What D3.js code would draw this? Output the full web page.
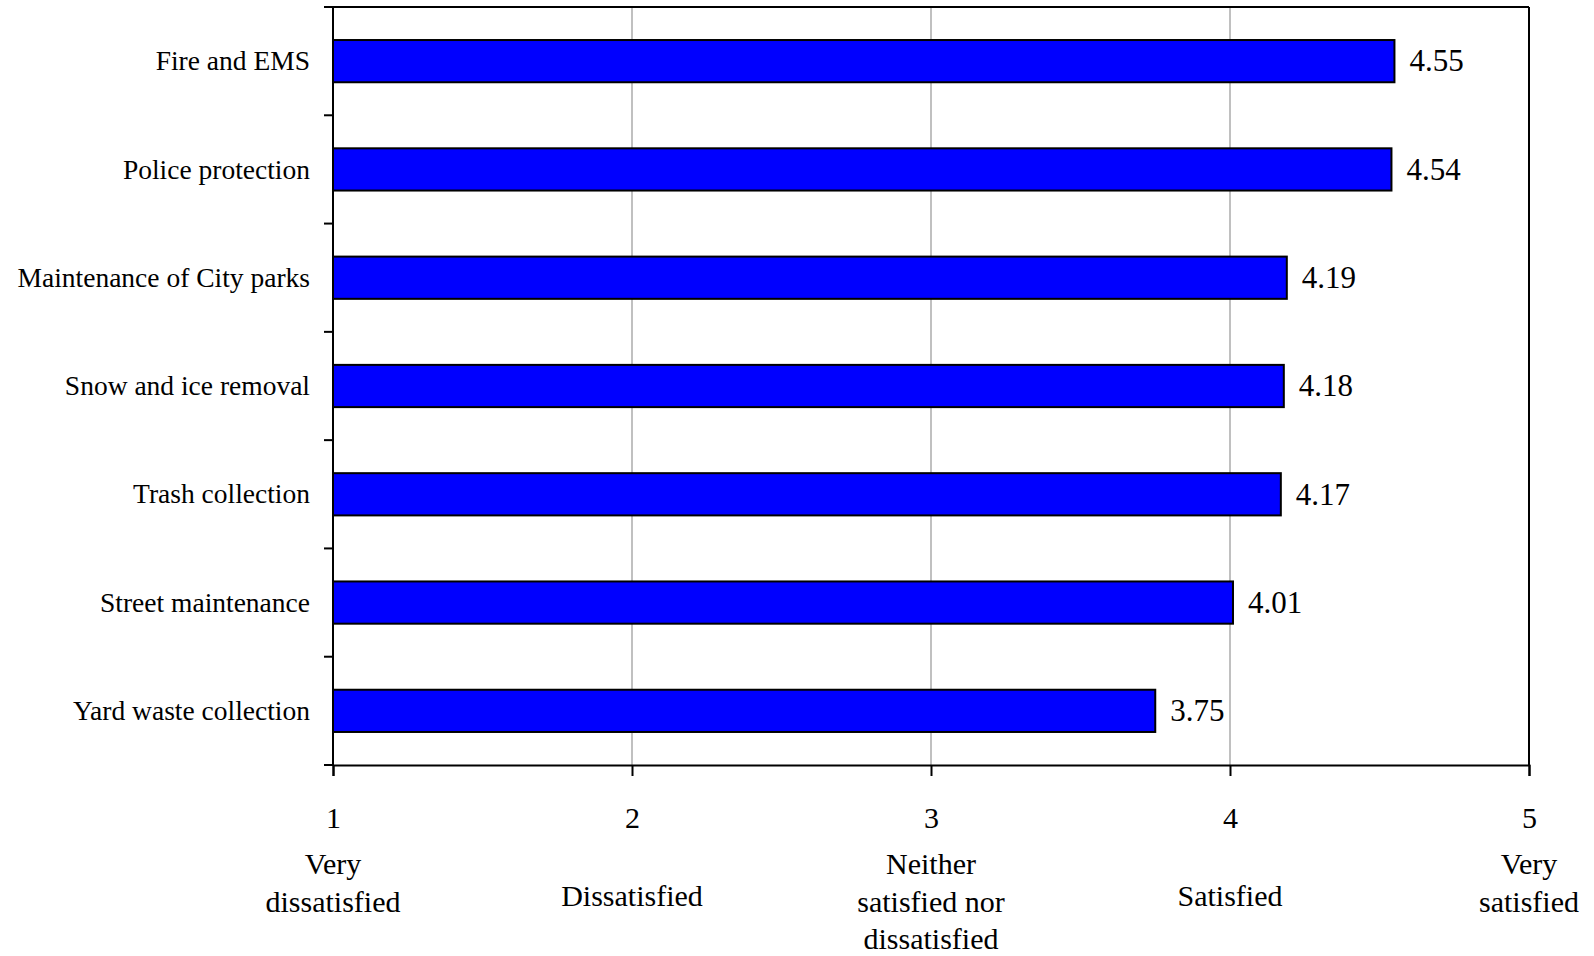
<!DOCTYPE html>
<html>
<head>
<meta charset="utf-8">
<script src="https://cdn.jsdelivr.net/npm/d3@7"></script>
<style>
  html, body { margin: 0; padding: 0; background: #fff; }
  svg { display: block; }
  text { font-family: "Liberation Serif", "Times New Roman", serif; fill: #000; }
</style>
</head>
<body>
<svg id="chart" width="1594" height="956"></svg>
<script>
// ---- data ----
const categories = [
  "Fire and EMS",
  "Police protection",
  "Maintenance of City parks",
  "Snow and ice removal",
  "Trash collection",
  "Street maintenance",
  "Yard waste collection"
];
const values = [4.55, 4.54, 4.19, 4.18, 4.17, 4.01, 3.75];
const tickValues = [1, 2, 3, 4, 5];
const tickDescriptions = [
  ["Very", "dissatisfied"],
  ["Dissatisfied"],
  ["Neither", "satisfied nor", "dissatisfied"],
  ["Satisfied"],
  ["Very", "satisfied"]
];

// ---- layout ----
const svg = d3.select("#chart");
const plot = { left: 333, right: 1529, top: 7, bottom: 765 };

const x = d3.scaleLinear().domain([1, 5]).range([plot.left, plot.right]);
const y = d3.scaleBand().domain(categories)
  .range([plot.top, plot.bottom])
  .paddingInner(0.61).paddingOuter(0.305);

// gridlines
svg.append("g")
  .selectAll("line")
  .data(tickValues.slice(1, -1))
  .join("line")
  .attr("x1", d => x(d)).attr("x2", d => x(d))
  .attr("y1", plot.top).attr("y2", plot.bottom)
  .attr("stroke", "#c0c0c0").attr("stroke-width", 2);

// bars
svg.append("g")
  .selectAll("rect")
  .data(values)
  .join("rect")
  .attr("x", x(1))
  .attr("y", (d, i) => y(categories[i]))
  .attr("width", d => x(d) - x(1))
  .attr("height", y.bandwidth())
  .attr("fill", "#0000ff")
  .attr("stroke", "#000")
  .attr("stroke-width", 2);

// value labels
svg.append("g")
  .selectAll("text")
  .data(values)
  .join("text")
  .attr("x", d => x(d) + 15)
  .attr("y", (d, i) => y(categories[i]) + y.bandwidth() / 2)
  .attr("dy", "0.33em")
  .attr("font-size", 31)
  .text(d => d.toFixed(2));

// frame (top & right)
svg.append("line")
  .attr("x1", plot.left).attr("x2", plot.right)
  .attr("y1", plot.top).attr("y2", plot.top)
  .attr("stroke", "#000").attr("stroke-width", 2);
svg.append("line")
  .attr("x1", plot.right).attr("x2", plot.right)
  .attr("y1", plot.top).attr("y2", plot.bottom)
  .attr("stroke", "#000").attr("stroke-width", 2);

// left axis: ticks at band boundaries
const boundaries = d3.range(categories.length + 1).map(i => plot.top + i * y.step());
const leftAxis = svg.append("g");
leftAxis.append("line")
  .attr("x1", plot.left).attr("x2", plot.left)
  .attr("y1", plot.top).attr("y2", plot.bottom)
  .attr("stroke", "#000").attr("stroke-width", 2);
leftAxis.selectAll("line.tick")
  .data(boundaries)
  .join("line")
  .attr("class", "tick")
  .attr("x1", plot.left - 9).attr("x2", plot.left)
  .attr("y1", d => d).attr("y2", d => d)
  .attr("stroke", "#000").attr("stroke-width", 2);
leftAxis.selectAll("text")
  .data(categories)
  .join("text")
  .attr("x", plot.left - 23)
  .attr("y", d => y(d) + y.bandwidth() / 2)
  .attr("dy", "0.33em")
  .attr("text-anchor", "end")
  .attr("font-size", 27.5)
  .text(d => d);

// bottom axis
const xAxis = d3.axisBottom(x)
  .tickValues(tickValues)
  .tickSize(11)
  .tickPadding(52)
  .tickFormat(d3.format("d"));
const gx = svg.append("g")
  .attr("transform", `translate(0,${plot.bottom})`)
  .call(xAxis);
gx.select(".domain").attr("stroke", "#000").attr("stroke-width", 2);
gx.selectAll(".tick line").attr("stroke", "#000").attr("stroke-width", 2);
gx.selectAll(".tick text")
  .attr("font-family", "Liberation Serif, Times New Roman, serif")
  .attr("font-size", 30)
  .attr("dy", null)
  .attr("fill", "#000");
// bottom-left corner tick extension
svg.append("line")
  .attr("x1", plot.left - 9).attr("x2", plot.left)
  .attr("y1", plot.bottom).attr("y2", plot.bottom)
  .attr("stroke", "#000").attr("stroke-width", 2);

// tick descriptions
const desc = svg.append("g");
tickValues.forEach((v, i) => {
  const lines = tickDescriptions[i];
  const t = desc.append("text")
    .attr("text-anchor", "middle")
    .attr("font-size", 30);
  lines.forEach((ln, j) => {
    t.append("tspan")
      .attr("x", x(v))
      .attr("y", lines.length === 1 ? 906 : 874 + j * 37.5)
      .text(ln);
  });
});
</script>
</body>
</html>
